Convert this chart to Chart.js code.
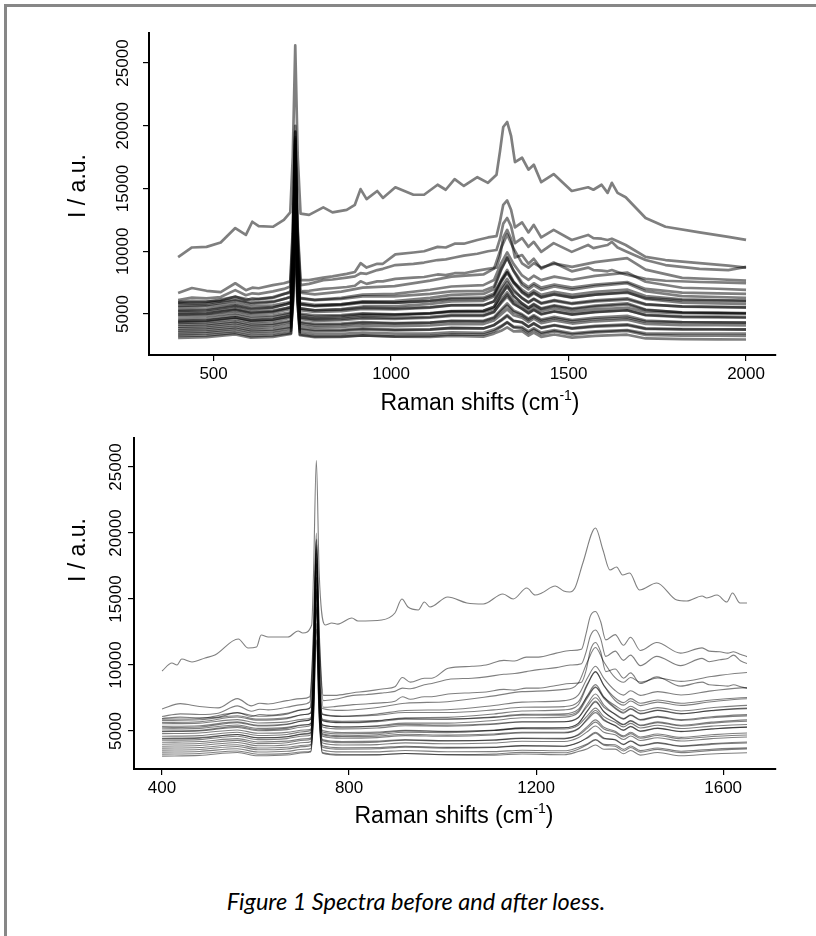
<!DOCTYPE html>
<html>
<head>
<meta charset="utf-8">
<script src="https://cdn.jsdelivr.net/npm/chart.js@4.4.1/dist/chart.umd.min.js"></script>
<style>
  html, body { margin: 0; padding: 0; background: #fff; }
  body { width: 816px; height: 936px; position: relative; overflow: hidden; }
  #frame { position: absolute; left: 4px; top: 4px; width: 812px; height: 932px; box-sizing: border-box;
           border-left: 3px solid #878787; border-top: 3px solid #878787; }
  canvas { position: absolute; left: 0; }
  #raw { top: 0; }
  #loess { top: 430px; }
  #caption { position: absolute; left: 0; width: 832px; top: 887px; text-align: center;
             font-family: Lato, "Open Sans", sans-serif; font-style: italic; font-size: 23.5px; color: #000; }
</style>
</head>
<body>
<div id="frame"></div>
<canvas id="raw" width="816" height="430"></canvas>
<canvas id="loess" width="816" height="420"></canvas>
<div id="caption">Figure 1 Spectra before and after loess.</div>
<script>
// raman shift grid for the 4 spectra that stand out above the bundle
const shiftRaw = [400, 439, 480, 520, 561, 591, 609, 627, 667, 698, 716, 723, 730, 737, 745, 769, 809, 835, 875, 898,
  914, 931, 961, 977, 1012, 1063, 1093, 1131, 1154, 1179, 1205, 1243, 1273, 1297, 1307, 1316, 1327, 1338, 1349, 1369,
  1387, 1402, 1423, 1458, 1509, 1555, 1570, 1593, 1610, 1622, 1638, 1661, 1717, 1773, 1869, 1950, 2000];

const specTop = [9540, 10300, 10350, 10700, 11850, 11300, 12350, 12000, 11950, 12500, 13100, 17500, 26400, 17500, 13000, 12900, 13500, 13100, 13300, 13700,
  14950, 14150, 14800, 14250, 15100, 14500, 14500, 15300, 14900, 15750, 15200, 15900, 15450, 16100, 18000, 19900, 20300, 19200, 17100, 17450,
  16500, 16900, 15500, 16150, 14800, 15100, 14900, 15300, 14650, 15450, 14650, 14300, 12650, 11950, 11500, 11150, 10900];
const specSecond = [6670, 7070, 6850, 6750, 7450, 6900, 7100, 7050, 7300, 7450, 7600, 11800, 20000, 11800, 7700, 7700, 7900, 8000, 8200, 8350,
  9050, 8700, 9000, 9000, 9750, 9900, 10000, 10350, 10300, 10600, 10600, 10900, 11100, 11200, 12400, 13700, 14050, 13300, 11900, 12300,
  11500, 12100, 11100, 11700, 10900, 11300, 11050, 11000, 10900, 11000, 10800, 10500, 9550, 9300, 9050, 8850, 8700];
const specThird = [6100, 6300, 6250, 6350, 6900, 6500, 6650, 6600, 6800, 7000, 7200, 11400, 19500, 11400, 7300, 7400, 7700, 7750, 7900, 8000,
  8250, 8200, 8500, 8600, 8900, 9000, 9100, 9300, 9350, 9500, 9650, 9800, 10000, 10100, 11000, 12200, 12650, 12000, 10650, 11050,
  10350, 10750, 9950, 10650, 9950, 10500, 10250, 10400, 10500, 10750, 10300, 10000, 9300, 8900, 8600, 8500, 8750];
const specFourth = [5950, 6050, 6000, 6050, 6400, 6100, 6250, 6200, 6350, 6600, 6700, 10500, 18500, 10500, 6800, 6850, 7000, 7050, 7150, 7250,
  7600, 7400, 7600, 7600, 7800, 7900, 7950, 8150, 8100, 8250, 8250, 8450, 8600, 8700, 9600, 11100, 11700, 11000, 9500, 9700,
  9000, 9400, 8600, 9100, 8400, 8700, 8500, 8450, 8400, 8500, 8350, 8150, 7800, 7650, 7550, 7500, 7450];

// coarser grid for the dense bundle of low spectra
const shiftBundle = [400, 480, 561, 605, 667, 705, 718, 724, 730, 736, 743, 785, 860, 920, 1010, 1110, 1170, 1260, 1290, 1310,
  1327, 1345, 1369, 1387, 1402, 1423, 1460, 1510, 1575, 1665, 1717, 1820, 1920, 2000];

const bundle01 = [5900, 5950, 6370, 6120, 6280, 6650, 6810, 10460, 19560, 10460, 6710, 6560, 6780, 7100, 7220, 7660, 7980, 8150, 8620, 10270, 11320, 10230, 9040, 8690, 9050, 8700, 9010, 8760, 9130, 9450, 8540, 7880, 7770, 7660];
const bundle02 = [5650, 5700, 6060, 5810, 5940, 6250, 6380, 9730, 18130, 9730, 6280, 6130, 6290, 6550, 6610, 6930, 7190, 7300, 7710, 9035, 9910, 8990, 8070, 7720, 8050, 7700, 7980, 7730, 8040, 8300, 7570, 7090, 7010, 6930];
const bundle03 = [5250, 5300, 5630, 5380, 5495, 5775, 5890, 8940, 16640, 8940, 5790, 5640, 5770, 6000, 6030, 6290, 6520, 6600, 6980, 8500, 9480, 8425, 7310, 6960, 7275, 6925, 7190, 6940, 7220, 7450, 6810, 6420, 6355, 6290];
const bundle04 = [5800, 5850, 6150, 5900, 6000, 6250, 6350, 10000, 19100, 10000, 6250, 6100, 6200, 6400, 6400, 6600, 6800, 6850, 7200, 8590, 9500, 8460, 7500, 7150, 7450, 7100, 7350, 7100, 7350, 7550, 7000, 6700, 6650, 6600];
const bundle05 = [5550, 5600, 5860, 5610, 5690, 5900, 5980, 9330, 17730, 9330, 5880, 5730, 5790, 5950, 5910, 6030, 6190, 6200, 6510, 7705, 8510, 7590, 6770, 6420, 6700, 6350, 6580, 6330, 6540, 6700, 6270, 6090, 6060, 6030];
const bundle06 = [5350, 5400, 5690, 5440, 5535, 5775, 5870, 9070, 17120, 9070, 5770, 5620, 5710, 5900, 5890, 6070, 6260, 6300, 6640, 7640, 8340, 7540, 6930, 6580, 6875, 6525, 6770, 6520, 6760, 6950, 6430, 6160, 6115, 6070];
const bundle07 = [5150, 5200, 5450, 5200, 5275, 5475, 5550, 8450, 15800, 8450, 5450, 5300, 5350, 5500, 5450, 5550, 5700, 5700, 6000, 7065, 7800, 6960, 6250, 5900, 6175, 5825, 6050, 5800, 6000, 6150, 5750, 5600, 5575, 5550];
const bundle08 = [5000, 5050, 5350, 5100, 5200, 5450, 5550, 8300, 15300, 8300, 5450, 5300, 5400, 5600, 5600, 5800, 6000, 6050, 6400, 7530, 8300, 7470, 6700, 6350, 6650, 6300, 6550, 6300, 6550, 6750, 6200, 5900, 5850, 5800];
const bundle09 = [4950, 5000, 5270, 5020, 5105, 5325, 5410, 8910, 17660, 8910, 5310, 5160, 5230, 5400, 5370, 5510, 5680, 5700, 6020, 6890, 7520, 6800, 6290, 5940, 6225, 5875, 6110, 5860, 6080, 6250, 5790, 5580, 5545, 5510];
const bundle10 = [4800, 4850, 5080, 4830, 4895, 5075, 5140, 7740, 14390, 7740, 5040, 4890, 4920, 5050, 4980, 5040, 5170, 5150, 5430, 6170, 6730, 6090, 5660, 5310, 5575, 5225, 5440, 5190, 5370, 5500, 5160, 5070, 5055, 5040];
const bundle11 = [4600, 4650, 4910, 4660, 4740, 4950, 5030, 8980, 18780, 8980, 4930, 4780, 4840, 5000, 4960, 5080, 5240, 5250, 5560, 6560, 7260, 6460, 5820, 5470, 5750, 5400, 5630, 5380, 5590, 5750, 5320, 5140, 5110, 5080];
const bundle12 = [4450, 4500, 4740, 4490, 4560, 4750, 4820, 7870, 15570, 7870, 4720, 4570, 4610, 4750, 4690, 4770, 4910, 4900, 5190, 5865, 6390, 5790, 5430, 5080, 5350, 5000, 5220, 4970, 5160, 5300, 4930, 4810, 4790, 4770];
const bundle13 = [4400, 4450, 4730, 4480, 4570, 4800, 4890, 8240, 16640, 8240, 4790, 4640, 4720, 4900, 4880, 5040, 5220, 5250, 5580, 6515, 7180, 6460, 5860, 5510, 5800, 5450, 5690, 5440, 5670, 5850, 5360, 5120, 5080, 5040];
const bundle14 = [4300, 4350, 4600, 4350, 4425, 4625, 4700, 8500, 17950, 8500, 4600, 4450, 4500, 4650, 4600, 4700, 4850, 4850, 5150, 5955, 6550, 5870, 5400, 5050, 5325, 4975, 5200, 4950, 5150, 5300, 4900, 4750, 4725, 4700];
const bundle15 = [4150, 4200, 4420, 4170, 4230, 4400, 4460, 7210, 14210, 7210, 4360, 4210, 4230, 4350, 4270, 4310, 4430, 4400, 4670, 5215, 5670, 5150, 4890, 4540, 4800, 4450, 4660, 4410, 4580, 4700, 4390, 4330, 4320, 4310];
const bundle16 = [4000, 4050, 4290, 4040, 4110, 4300, 4370, 7720, 16120, 7720, 4270, 4120, 4160, 4300, 4240, 4320, 4460, 4450, 4740, 5350, 5840, 5280, 4980, 4630, 4900, 4550, 4770, 4520, 4710, 4850, 4480, 4360, 4340, 4320];
const bundle17 = [3850, 3900, 4130, 3880, 3945, 4125, 4190, 8440, 18940, 8440, 4090, 3940, 3970, 4100, 4030, 4090, 4220, 4200, 4480, 4960, 5380, 4900, 4710, 4360, 4625, 4275, 4490, 4240, 4420, 4550, 4210, 4120, 4105, 4090];
const bundle18 = [3700, 3750, 3960, 3710, 3765, 3925, 3980, 6430, 12730, 6430, 3880, 3730, 3740, 3850, 3760, 3780, 3890, 3850, 4110, 4525, 4910, 4470, 4320, 3970, 4225, 3875, 4080, 3830, 3990, 4100, 3820, 3790, 3785, 3780];
const bundle19 = [3550, 3600, 3825, 3575, 3640, 3815, 3875, 6925, 14625, 6925, 3775, 3625, 3650, 3775, 3700, 3750, 3875, 3850, 4125, 4475, 4825, 4425, 4350, 4000, 4265, 3915, 4125, 3875, 4050, 4175, 3850, 3775, 3765, 3750];
const bundle20 = [3400, 3450, 3655, 3405, 3460, 3615, 3665, 5965, 11915, 5965, 3565, 3415, 3420, 3525, 3430, 3440, 3545, 3500, 3755, 4040, 4355, 4000, 3960, 3610, 3865, 3515, 3715, 3465, 3620, 3725, 3460, 3445, 3445, 3440];
const bundle21 = [3250, 3300, 3490, 3240, 3285, 3425, 3470, 6970, 15720, 6970, 3370, 3220, 3210, 3300, 3190, 3170, 3260, 3200, 3440, 3660, 3940, 3620, 3630, 3280, 3525, 3175, 3370, 3120, 3260, 3350, 3050, 3000, 2980, 2970];
const bundle22 = [3100, 3150, 3370, 3120, 3180, 3350, 3410, 6160, 13160, 6160, 3310, 3160, 3180, 3300, 3220, 3260, 3380, 3350, 3620, 3970, 4320, 3930, 3840, 3490, 3750, 3400, 3610, 3360, 3530, 3650, 3340, 3280, 3270, 3260];

// top spectrum after loess
const shiftLoess = [400, 421, 432, 442, 464, 492, 513, 563, 584, 602, 612, 627, 669, 691, 701, 720, 724, 730, 736, 749,
  763, 776, 806, 819, 870, 898, 913, 926, 948, 961, 973, 1011, 1052, 1087, 1129, 1151, 1180, 1198, 1212, 1241,
  1259, 1272, 1283, 1300, 1327, 1343, 1358, 1372, 1385, 1400, 1421, 1458, 1501, 1522, 1555, 1565, 1587, 1608, 1620, 1636, 1651];
const loessTop = [9545, 10150, 10000, 10450, 10230, 10530, 10760, 11970, 11290, 11360, 12270, 12120, 12120, 12580, 12420, 13030, 17000, 25500, 17000, 13030,
  13180, 13100, 13560, 13330, 13410, 13940, 15000, 14390, 14170, 14770, 14390, 15150, 14700, 14620, 15380, 15000, 15830, 15300, 15450, 15980,
  15600, 15530, 15830, 17730, 20380, 18710, 17200, 17420, 16820, 16970, 15680, 16210, 14920, 14850, 15230, 15080, 15300, 14770, 15450, 14700, 14700];

const rawTicks = [500, 1000, 1500, 2000];
const loessTicks = [400, 800, 1200, 1600];
const intensityTicks = [5000, 10000, 15000, 20000, 25000];
const loessEnd = 1651;

const bundles = [bundle01, bundle02, bundle03, bundle04, bundle05, bundle06, bundle07, bundle08, bundle09, bundle10, bundle11,
  bundle12, bundle13, bundle14, bundle15, bundle16, bundle17, bundle18, bundle19, bundle20, bundle21, bundle22];

Chart.defaults.font.family = '"Liberation Sans", Arial, sans-serif';

const pts = (xs, ys) => xs.map((x, i) => ({ x: x, y: ys[i] }));

function makeSets(topSpec, topShift, width, color) {
  let sets = [];
  sets.push({ data: pts(topShift, topSpec) });
  [specSecond, specThird, specFourth].forEach(s => sets.push({ data: pts(shiftRaw, s) }));
  bundles.forEach(b => sets.push({ data: pts(shiftBundle, b) }));
  sets.forEach(s => { s.borderColor = color; s.borderWidth = width; s.pointRadius = 0; s.fill = false; });
  return sets;
}

// draws the rotated y tick labels, axis titles and clips the loess panel
const axisText = {
  id: 'axisText',
  beforeDatasetsDraw(chart, args, o) {
    if (!o.clipAt) return;
    const a = chart.chartArea, ctx = chart.ctx;
    ctx.save();
    ctx.beginPath();
    ctx.rect(a.left, a.top - 20, chart.scales.x.getPixelForValue(o.clipAt) - a.left, a.bottom - a.top + 20);
    ctx.clip();
  },
  afterDatasetsDraw(chart, args, o) {
    if (o.clipAt) chart.ctx.restore();
  },
  afterDraw(chart, args, o) {
    const ctx = chart.ctx, ys = chart.scales.y;
    ctx.save();
    ctx.fillStyle = '#000';
    ctx.textAlign = 'center';
    ctx.textBaseline = 'middle';
    ctx.font = '17px "Liberation Sans", Arial';
    ys.ticks.forEach(t => {
      ctx.setTransform(1, 0, 0, 1, o.tickX, ys.getPixelForValue(t.value));
      ctx.rotate(-Math.PI / 2);
      ctx.fillText(String(t.value), 0, 0);
    });
    ctx.font = '23px "Liberation Sans", Arial';
    ctx.setTransform(1, 0, 0, 1, o.yTitle[0], o.yTitle[1]);
    ctx.rotate(-Math.PI / 2);
    ctx.fillText('I / a.u.', 0, 0);
    ctx.setTransform(1, 0, 0, 1, 0, 0);
    // x title with superscript
    const main = 'Raman shifts (cm', sup = '-1', end = ')';
    const supFont = '14px "Liberation Sans", Arial';
    const w1 = ctx.measureText(main).width, w3 = ctx.measureText(end).width;
    ctx.font = supFont;
    const w2 = ctx.measureText(sup).width;
    let x = o.xTitle[0] - (w1 + w2 + w3) / 2, y = o.xTitle[1];
    ctx.textAlign = 'left';
    ctx.font = '23px "Liberation Sans", Arial';
    ctx.fillText(main, x, y);
    ctx.font = supFont;
    ctx.fillText(sup, x + w1, y - 8);
    ctx.font = '23px "Liberation Sans", Arial';
    ctx.fillText(end, x + w1 + w2, y);
    ctx.restore();
  }
};

function axes(xmin, xmax, xt, ymin, ymax, yWidth, xHeight) {
  const grid = { drawOnChartArea: false, drawTicks: true, tickLength: 6, color: '#000', lineWidth: 1.2 };
  const border = { display: true, color: '#000', width: 2 };
  return {
    x: {
      type: 'linear', min: xmin, max: xmax,
      afterBuildTicks: s => { s.ticks = xt.map(v => ({ value: v })); },
      afterFit: s => { s.height = xHeight; },
      grid: grid, border: border,
      ticks: { color: '#000', font: { family: '"Liberation Sans", Arial', size: 17 }, padding: 3, maxRotation: 0, autoSkip: false,
               callback: v => String(v) }
    },
    y: {
      type: 'linear', min: ymin, max: ymax,
      afterBuildTicks: s => { s.ticks = intensityTicks.map(v => ({ value: v })); },
      afterFit: s => { s.width = yWidth; },
      grid: grid, border: border,
      ticks: { display: false }
    }
  };
}

new Chart(document.getElementById('raw'), {
  type: 'line',
  data: { datasets: makeSets(specTop, shiftRaw, 2.7, 'rgba(0,0,0,0.5)') },
  options: {
    responsive: false, animation: false, devicePixelRatio: 1,
    layout: { padding: { left: 0, right: 40.5, top: 33, bottom: 0 } },
    elements: { line: { tension: 0, borderJoinStyle: 'round' } },
    plugins: {
      legend: { display: false }, tooltip: { enabled: false },
      axisText: { tickX: 123, yTitle: [79, 186], xTitle: [480, 404] }
    },
    scales: axes(318, 2083, rawTicks, 1733, 27390, 149, 75)
  },
  plugins: [axisText]
});

new Chart(document.getElementById('loess'), {
  type: 'line',
  data: { datasets: makeSets(loessTop, shiftLoess, 1.1, 'rgba(0,0,0,0.5)') },
  options: {
    responsive: false, animation: false, devicePixelRatio: 1,
    layout: { padding: { left: 0, right: 40.5, top: 8, bottom: 0 } },
    elements: { line: { cubicInterpolationMode: 'monotone' } },
    plugins: {
      legend: { display: false }, tooltip: { enabled: false },
      axisText: { tickX: 116, yTitle: [79, 120], xTitle: [454, 387], clipAt: loessEnd }
    },
    scales: axes(340, 1712, loessTicks, 2121, 27197, 134, 81)
  },
  plugins: [axisText]
});
</script>
</body>
</html>
